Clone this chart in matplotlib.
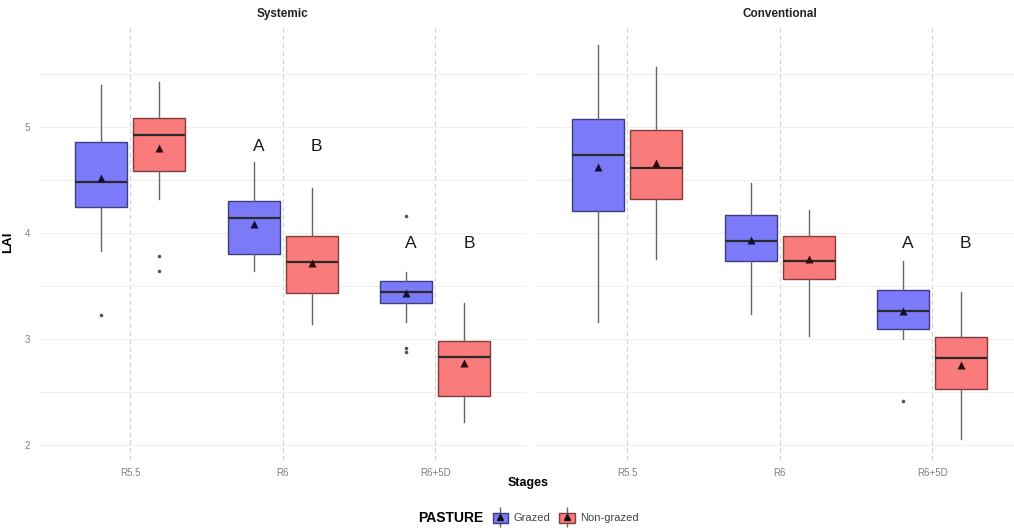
import numpy as np
import matplotlib.pyplot as plt
from matplotlib.patches import Patch
from matplotlib.lines import Line2D
from matplotlib.legend_handler import HandlerTuple

plt.rcParams['font.family'] = ['Liberation Sans', 'DejaVu Sans']

stages = ['R5.5', 'R6', 'R6+5D']
groups = ['Grazed', 'Non-grazed']
panels = ['Systemic', 'Conventional']

# per panel, per group, per stage: (whislo, q1, med, q3, whishi, mean)
systemic_grazed = [(3.83, 4.24, 4.48, 4.86, 5.39, 4.52),
                   (3.64, 3.80, 4.14, 4.30, 4.67, 4.08),
                   (3.16, 3.34, 3.44, 3.55, 3.63, 3.43)]
systemic_nongrazed = [(4.32, 4.58, 4.92, 5.08, 5.42, 4.80),
                      (3.14, 3.43, 3.73, 3.97, 4.42, 3.72),
                      (2.22, 2.46, 2.83, 2.98, 3.34, 2.77)]
conventional_grazed = [(3.16, 4.21, 4.73, 5.07, 5.77, 4.62),
                       (3.24, 3.74, 3.92, 4.17, 4.47, 3.93),
                       (3.00, 3.09, 3.26, 3.46, 3.74, 3.26)]
conventional_nongrazed = [(3.75, 4.32, 4.61, 4.97, 5.56, 4.66),
                          (3.03, 3.57, 3.74, 3.97, 4.22, 3.75),
                          (2.06, 2.53, 2.82, 3.02, 3.44, 2.76)]

systemic_grazed_out = [[3.23], [], [4.16, 2.92, 2.88]]
systemic_nongrazed_out = [[3.78, 3.64], [], []]
conventional_grazed_out = [[], [], [2.42]]
conventional_nongrazed_out = [[], [], []]

# significance letters: (stage, letters, height)
systemic_letters = [('R6', ['A', 'B'], 4.81), ('R6+5D', ['A', 'B'], 3.90)]
conventional_letters = [('R6+5D', ['A', 'B'], 3.90)]

data = {
    'Systemic': ([systemic_grazed, systemic_nongrazed],
                 [systemic_grazed_out, systemic_nongrazed_out],
                 systemic_letters),
    'Conventional': ([conventional_grazed, conventional_nongrazed],
                     [conventional_grazed_out, conventional_nongrazed_out],
                     conventional_letters),
}

fills = ['#7b7bf9', '#f97b7b']
edges = ['#3d3d80', '#803d3d']
offsets = [-0.19, 0.19]
box_w = 0.34

fig = plt.figure(figsize=(10.14, 5.28), dpi=100)
bottom, top = 0.1288, 0.9527
axes = [fig.add_axes([0.038, bottom, 0.4817, top - bottom]),
        fig.add_axes([0.528, bottom, 0.4817, top - bottom])]

for ax, name in zip(axes, panels):
    summaries, outliers, letters = data[name]
    for g in range(2):
        stats = []
        for s in range(3):
            lo, q1, med, q3, hi, mean = summaries[g][s]
            stats.append(dict(whislo=lo, q1=q1, med=med, q3=q3, whishi=hi,
                              mean=mean, fliers=outliers[g][s]))
        pos = np.arange(1, 4) + offsets[g]
        ax.bxp(stats, positions=pos, widths=box_w, patch_artist=True,
               showmeans=True, showcaps=False, manage_ticks=False,
               boxprops=dict(facecolor=fills[g], edgecolor=edges[g], linewidth=1.0),
               whiskerprops=dict(color='#666666', linewidth=1.0),
               medianprops=dict(color='#2a2a2a', linewidth=1.6),
               meanprops=dict(marker='^', markerfacecolor='#101030' if g == 0 else '#300a0a',
                              markeredgecolor='none', markersize=5.5),
               flierprops=dict(marker='o', markerfacecolor='#555555',
                               markeredgecolor='none', markersize=2.6))
    for stage, labs, h in letters:
        i = stages.index(stage) + 1
        for g, lab in enumerate(labs):
            ax.text(i + offsets[g] + 0.03, h, lab, ha='center', va='center',
                    fontsize=12.5, color='#1a1a1a')

    ax.set_xlim(0.4, 3.6)
    ax.set_ylim(1.86, 5.96)
    ax.set_xticks(range(1, 4))
    ax.set_xticklabels(stages)
    ax.set_yticks([2, 3, 4, 5])
    ax.set_yticks([2.5, 3.5, 4.5, 5.5], minor=True)
    ax.grid(axis='y', which='both', color='#f0f0f0', linewidth=0.9)
    ax.grid(axis='x', which='major', color='#d0d0d0', linewidth=0.8, linestyle=(0, (4, 3)))
    ax.set_axisbelow(True)
    for sp in ax.spines.values():
        sp.set_visible(False)
    ax.tick_params(length=0, labelsize=7, labelcolor='#808080', pad=6)
    ax.tick_params(which='minor', length=0)
    ax.set_title(name, fontsize=8.5, fontweight='bold', color='#222222', pad=6)

axes[1].tick_params(labelleft=False)
axes[0].set_ylabel('LAI', fontsize=9.5, fontweight='bold', labelpad=8)

fig.text(0.521, 1 - 483 / 528, 'Stages', ha='center', va='center',
         fontsize=9, fontweight='bold')

# legend: title to the left, two boxplot-style keys
fig.text(0.412, 1 - 518 / 528, 'PASTURE', ha='left', va='center',
         fontsize=10, fontweight='bold')
handles = []
for g in range(2):
    whisk = Line2D([], [], marker='|', linestyle='none', color='#666666',
                   markersize=15, markeredgewidth=1.0)
    box = Patch(facecolor=fills[g], edgecolor=edges[g], linewidth=1.0)
    tri = Line2D([], [], marker='^', linestyle='none', color='#101010', markersize=4.5)
    handles.append((whisk, box, tri))
fig.legend(handles, groups, handler_map={tuple: HandlerTuple(ndivide=1, pad=0)},
           loc='center left', bbox_to_anchor=(0.476, 1 - 518 / 528), ncol=2,
           frameon=False, fontsize=8, handlelength=1.4, handleheight=1.0,
           handletextpad=0.5, columnspacing=0.8, labelcolor='#444444')

fig.savefig('out.png', dpi=100)
